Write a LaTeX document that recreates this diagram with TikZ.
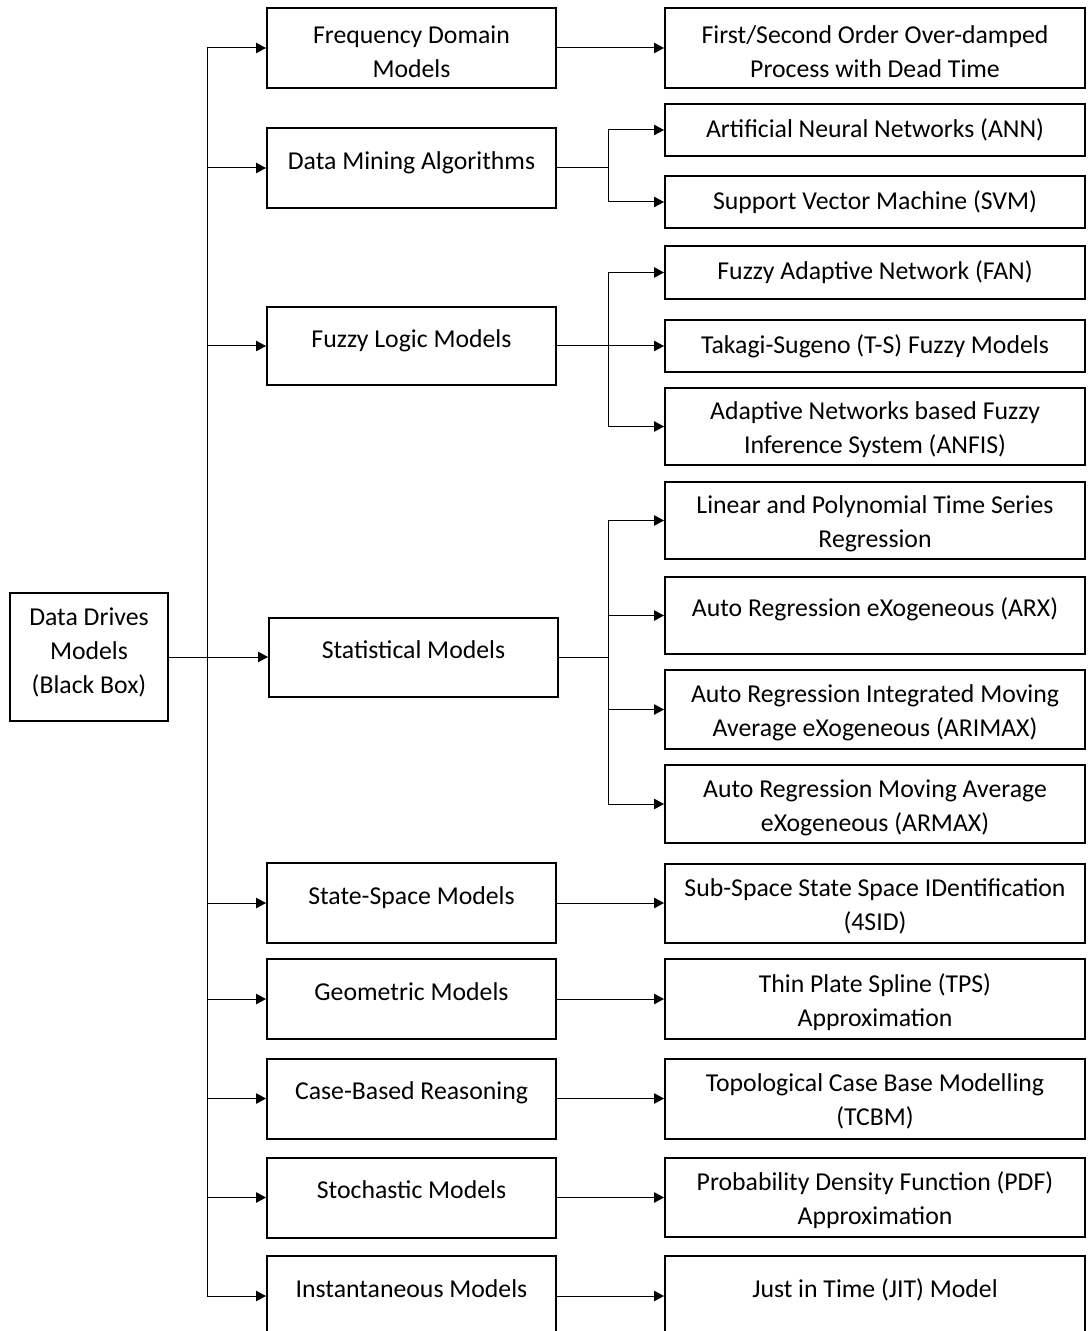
\documentclass[tikz,border=0pt]{standalone}
\usepackage{fontspec}
\setmainfont{Carlito}
\usetikzlibrary{arrows.meta}
\pgfdeclarelayer{bg}
\pgfsetlayers{bg,main}
\tikzset{
    every node/.style={rectangle, draw, line width=0.8pt, align=center, inner sep=0pt, font=\fontsize{10.3}{13.6}\selectfont},
    box/.style 2 args={minimum width=#1*0.4pt, minimum height=#2*0.4pt},
    mid/.style={box={289}{#1}},
    leaf/.style={box={420}{#1}},
    oneline/.style={text height=7pt, text depth=6pt},
    twoline/.style={text height=23.4pt},
    arr/.style={-{Triangle[length=4pt, width=4.2pt]}}
}

\begin{document}
\begin{tikzpicture}[x=0.4pt, y=-0.4pt, line width=0.8pt]
        \useasboundingbox (0,0) rectangle (1087,1331);
        \coordinate (tk) at (207,0);
        \coordinate (br) at (608,0);
        \node (root) [box={158}{128}, text depth=5pt] at (89,657) {Data Drives\\Models\\(Black Box)};
        % second column
        \node (fq) [mid=80, twoline] at (411.5,48) {Frequency Domain\\Models};
        \node (dm) [mid=80, oneline] at (411.5,168) {Data Mining Algorithms};
        \node (fz) [mid=78, oneline] at (411.5,346) {Fuzzy Logic Models};
        \node (st) [mid=79, oneline] at (413.5,657) {Statistical Models};
        \node (ss) [mid=80, oneline] at (411.5,903) {State-Space Models};
        \node (ge) [mid=80, oneline] at (411.5,999) {Geometric Models};
        \node (cb) [mid=80, oneline] at (411.5,1098.5) {Case-Based Reasoning};
        \node (sc) [mid=80, oneline] at (411.5,1197.5) {Stochastic Models};
        \node (in) [mid=80, oneline] at (411.5,1296) {Instantaneous Models};
        % third column
        \node (fo) [leaf=80, twoline] at (875,48) {First/Second Order Over-damped\\Process with Dead Time};
        \node (ann) [leaf=52] at (875,130) {Artificial Neural Networks (ANN)};
        \node (svm) [leaf=52] at (875,202) {Support Vector Machine (SVM)};
        \node (fan) [leaf=53] at (875,272.5) {Fuzzy Adaptive Network (FAN)};
        \node (ts) [leaf=52] at (875,346) {Takagi-Sugeno (T-S) Fuzzy Models};
        \node (anf) [leaf=77, twoline] at (875,426.5) {Adaptive Networks based Fuzzy\\Inference System (ANFIS)};
        \node (lp) [leaf=77, twoline] at (875,520.5) {Linear and Polynomial Time Series\\Regression};
        \node (arx) [leaf=77, oneline] at (875,615.5) {Auto Regression eXogeneous (ARX)};
        \node (arim) [leaf=79, twoline] at (875,709.5) {Auto Regression Integrated Moving\\Average eXogeneous (ARIMAX)};
        \node (arm) [leaf=78, twoline] at (875,804) {Auto Regression Moving Average\\eXogeneous (ARMAX)};
        \node (sid) [leaf=79, twoline] at (875,903) {Sub-Space State Space IDentification\\(4SID)};
        \node (tps) [leaf=80, twoline] at (875,999) {Thin Plate Spline (TPS)\\Approximation};
        \node (tcb) [leaf=80, twoline] at (875,1098.5) {Topological Case Base Modelling\\(TCBM)};
        \node (pdf) [leaf=79, twoline] at (875,1197.5) {Probability Density Function (PDF)\\Approximation};
        \node (jit) [leaf=80, oneline] at (875,1296) {Just in Time (JIT) Model};
        \begin{pgfonlayer}{bg}
                \draw (tk |- fq) -- (tk |- in);
                \draw (root) edge [arr] (st);
                \draw (tk |- fq) edge [arr] (fq);
                \draw (tk |- dm) edge [arr] (dm);
                \draw (tk |- fz) edge [arr] (fz);
                \draw (tk |- ss) edge [arr] (ss);
                \draw (tk |- ge) edge [arr] (ge);
                \draw (tk |- cb) edge [arr] (cb);
                \draw (tk |- sc) edge [arr] (sc);
                \draw (tk |- in) edge [arr] (in);
                \draw (fq) edge [arr] (fo);
                \draw[arr] (dm.east) -- (br |- dm.east) |- (ann.west);
                \draw[arr] (dm.east) -- (br |- dm.east) |- (svm.west);
                \draw[arr] (fz.east) -- (br |- fz.east) |- (fan.west);
                \draw (fz.east) edge [arr] (ts.west);
                \draw[arr] (fz.east) -- (br |- fz.east) |- (anf.west);
                \draw[arr] (st.east) -- (br |- st.east) |- (lp.west);
                \draw[arr] (st.east) -- (br |- st.east) |- (arx.west);
                \draw[arr] (st.east) -- (br |- st.east) |- (arim.west);
                \draw[arr] (st.east) -- (br |- st.east) |- (arm.west);
                \draw (ss) edge [arr] (sid);
                \draw (ge) edge [arr] (tps);
                \draw (cb) edge [arr] (tcb);
                \draw (sc) edge [arr] (pdf);
                \draw (in) edge [arr] (jit);
        \end{pgfonlayer}
\end{tikzpicture}
\end{document}
